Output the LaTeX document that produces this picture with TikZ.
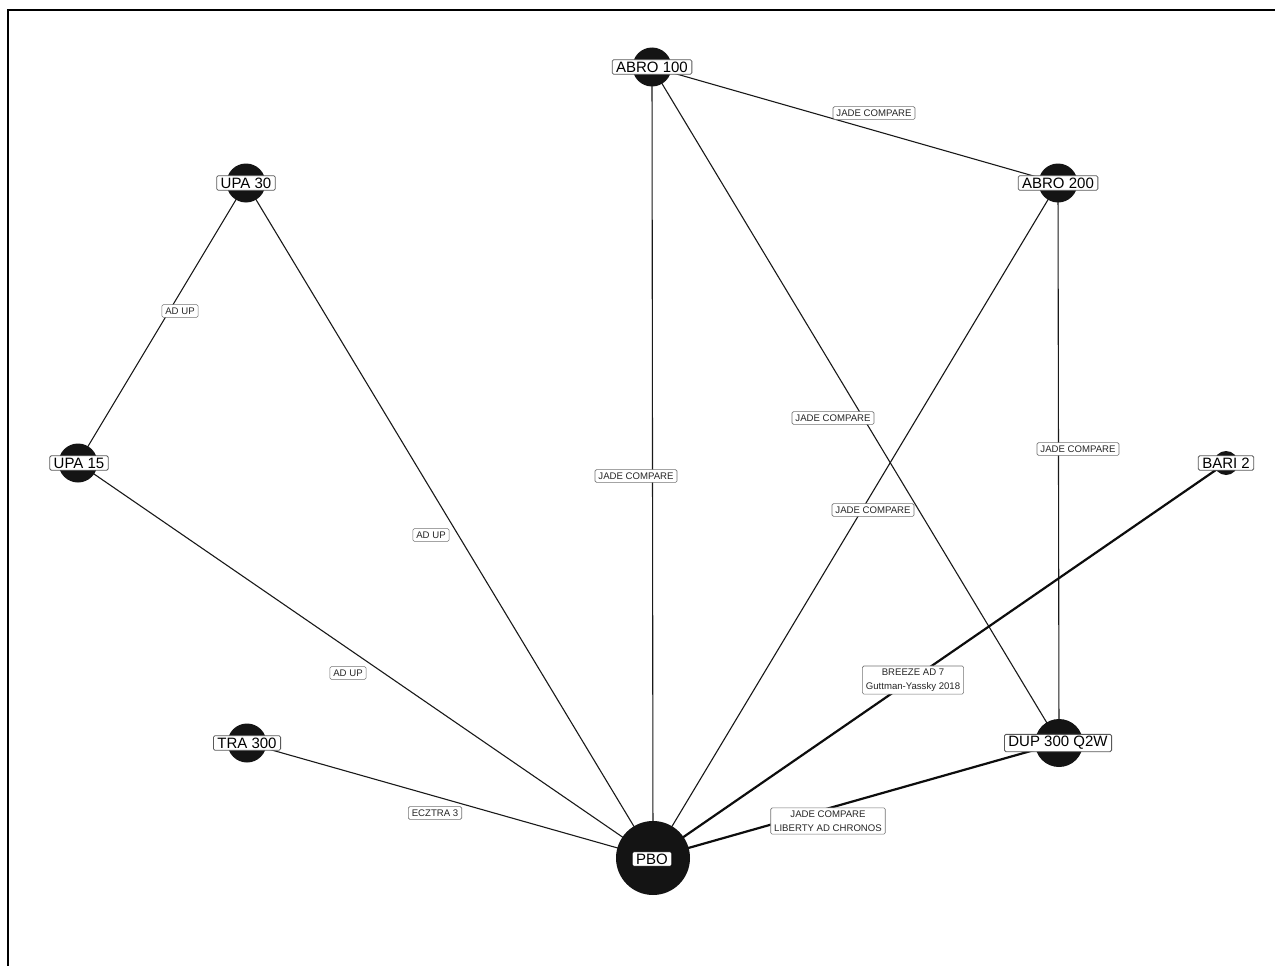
\documentclass[tikz,border=0pt]{standalone}
\usepackage{fontspec}
\setmainfont{Liberation Sans}
\usetikzlibrary{backgrounds}
\begin{document}
\begin{tikzpicture}[x=1pt,y=-1pt,
  trt/.style={circle, fill=black!92, draw=none, minimum size=#1, inner sep=0pt},
  tlabel/.style={draw=black!65, fill=white, rounded corners=1.5pt, inner xsep=4pt, inner ysep=2pt, line width=0.8pt, font=\fontsize{15}{16}\selectfont},
  elabel/.style={draw=black!55, fill=white, rounded corners=1.5pt, inner xsep=3.5pt, inner ysep=3pt, line width=0.6pt, align=center, text=black!85, font=\fontsize{9.6}{13.5}\selectfont},
  link/.style={line width=1.1pt, black!90},
  boldlink/.style={line width=2.2pt, black!95},
  frameline/.style={line width=1.6pt, black}]
\useasboundingbox (0,0) rectangle (1275,966);
\draw[frameline] (8,966) -- (8,10) -- (1275,10);
% treatment circles
\node[trt=39pt] (abro100) at (652,67) {};
\node[trt=39pt] (upa30) at (246,183) {};
\node[trt=39pt] (abro200) at (1058,183) {};
\node[trt=39pt] (upa15) at (78,463) {};
\node[trt=24pt] (bari2) at (1226,463) {};
\node[trt=39pt] (tra300) at (247,743) {};
\node[trt=48pt] (dup300) at (1059,743) {};
\node[trt=74pt] (pbo) at (653,858) {};
% edges
\begin{pgfonlayer}{background}
\draw[link] (upa30.center) -- (upa15.center);
\draw[link] (upa30.center) -- (pbo.center);
\draw[link] (upa15.center) -- (pbo.center);
\draw[link] (tra300.center) -- (pbo.center);
\draw[link] (abro100.center) -- (pbo.center);
\draw[link] (abro100.center) -- (abro200.center);
\draw[link] (abro100.center) -- (dup300.center);
\draw[link] (abro200.center) -- (pbo.center);
\draw[link] (abro200.center) -- (dup300.center);
\draw[boldlink] (bari2.center) -- (pbo.center);
\draw[boldlink] (dup300.center) -- (pbo.center);
\end{pgfonlayer}
% treatment labels
\node[tlabel] (labro100) at (652,67) {ABRO 100};
\node[tlabel] (lupa30) at (246,183) {UPA 30};
\node[tlabel] (labro200) at (1058,183) {ABRO 200};
\node[tlabel] (lupa15) at (79,463) {UPA 15};
\node[tlabel] (lbari2) at (1226,463) {BARI 2};
\node[tlabel] (ltra300) at (247,743) {TRA 300};
\node[tlabel] (ldup300) at (1058,743) {DUP 300 Q2W};
\node[tlabel, draw=black] (lpbo) at (652,859) {PBO};
% edge labels
\node[elabel] (e1) at (180,311) {AD UP};
\node[elabel] (e2) at (431,535) {AD UP};
\node[elabel] (e3) at (348,673) {AD UP};
\node[elabel] (e4) at (435,813) {ECZTRA 3};
\node[elabel] (e5) at (636,476) {JADE COMPARE};
\node[elabel] (e6) at (874,113) {JADE COMPARE};
\node[elabel] (e7) at (833,418) {JADE COMPARE};
\node[elabel] (e8) at (873,510) {JADE COMPARE};
\node[elabel] (e9) at (1078,449) {JADE COMPARE};
\node[elabel] (e10) at (913,680) {BREEZE AD 7\\Guttman-Yassky 2018};
\node[elabel] (e11) at (828,821) {JADE COMPARE\\LIBERTY AD CHRONOS};
\end{tikzpicture}
\end{document}
